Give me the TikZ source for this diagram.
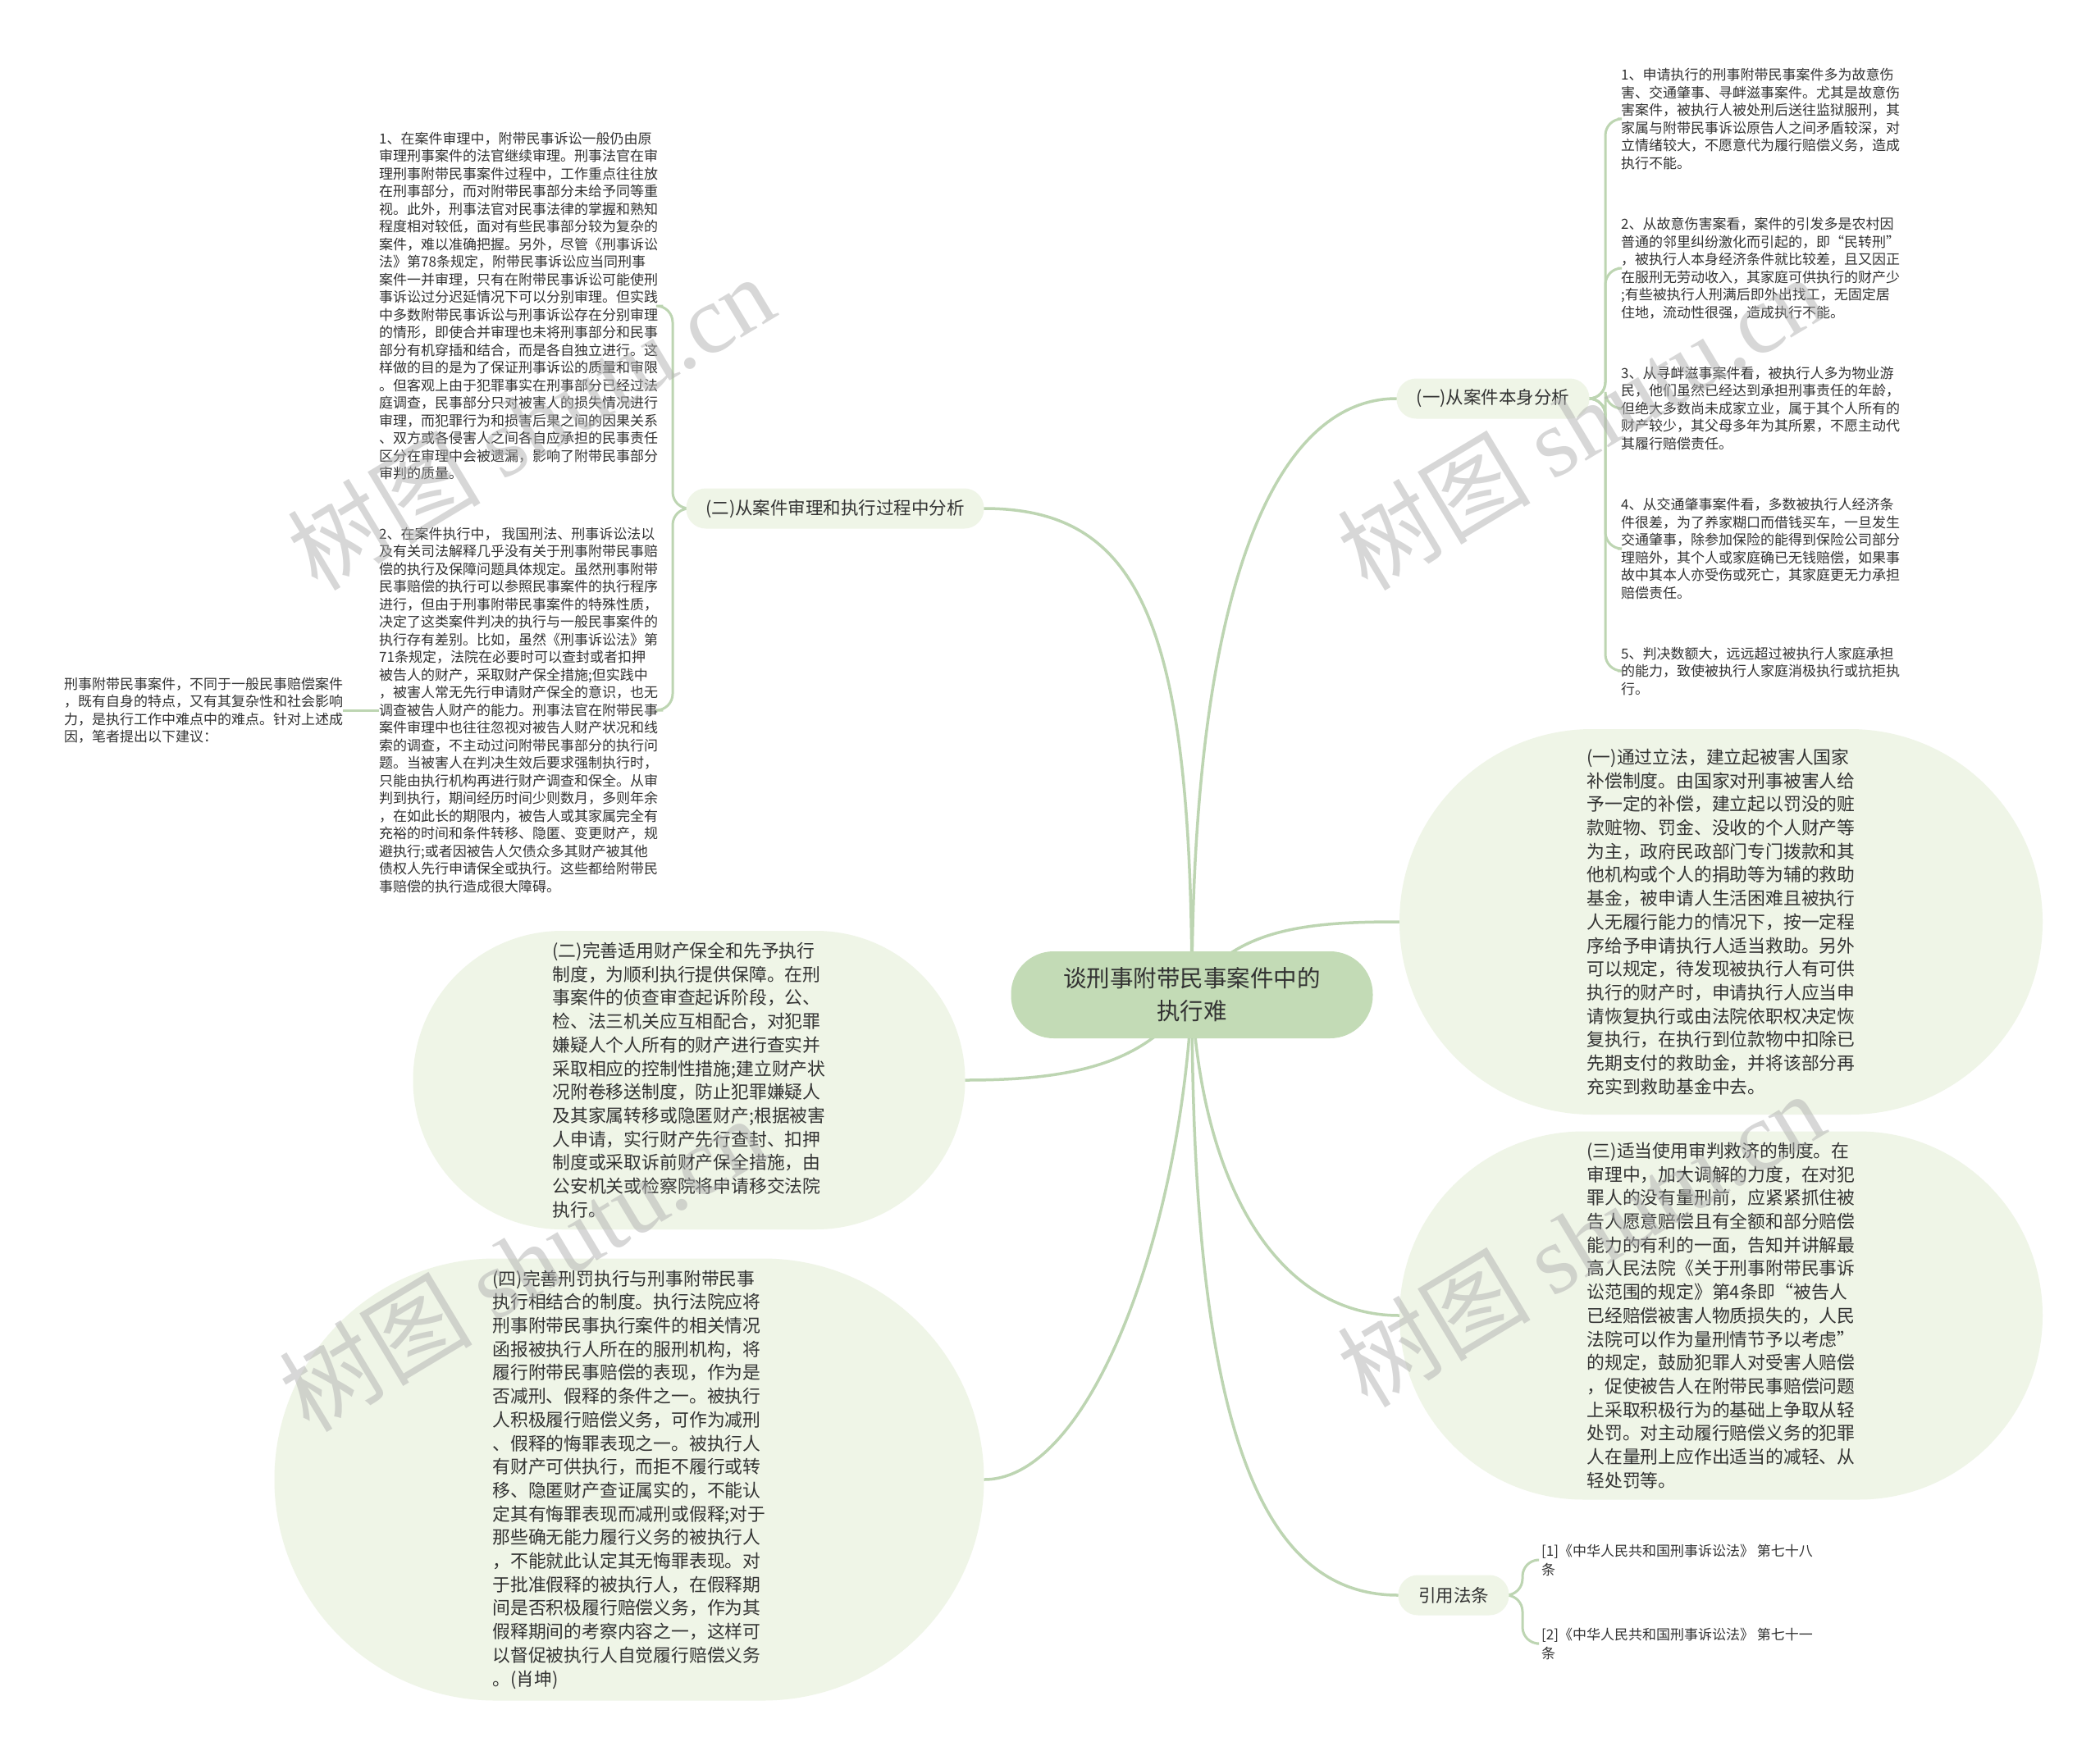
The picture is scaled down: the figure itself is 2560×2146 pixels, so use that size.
\documentclass[tikz,border=0pt]{standalone}
\usepackage{fontspec}
\setmainfont{Noto Sans CJK SC}
\newfontfamily\wmlatin{Liberation Serif}
\definecolor{lc}{HTML}{BDD5B2}
\definecolor{bub}{HTML}{EFF5E7}
\definecolor{rootc}{HTML}{C3DBB6}
\definecolor{txt}{HTML}{333333}
\definecolor{wm}{HTML}{B0B0B0}
\pgfdeclarelayer{bgzero}
\pgfdeclarelayer{lines}
\pgfsetlayers{bgzero,lines,main}
\tikzset{
  conn/.style={draw=lc, line width=3.5pt, line cap=round},
  brk/.style={draw=lc, line width=3pt, rounded corners=20pt},
  rootnode/.style={rectangle, rounded corners=52pt, fill=rootc, minimum width=441pt, minimum height=106pt, align=center, text=txt, font=\fontsize{28.5}{40}\selectfont},
  pill/.style={rectangle, rounded corners=24pt, fill=bub, minimum height=49pt, align=center, text=txt, font=\fontsize{21.5}{26}\selectfont},
  bubble/.style={rectangle, fill=bub, align=left, text=txt, font=\fontsize{21.8}{28.7}\selectfont},
  small/.style={inner sep=0pt, align=left, text=txt, font=\fontsize{17}{21.5}\selectfont},
  wmark/.style={text=wm, opacity=0.5, rotate=31, font=\fontsize{118}{118}\selectfont},
}
\begin{document}
\begin{tikzpicture}[x=1pt, y=-1pt]
\begin{pgfonlayer}{bgzero}
\fill[white] (0,0) rectangle (2560,2146);
\end{pgfonlayer}
\useasboundingbox (0,0) rectangle (2560,2146);

% ---------- nodes ----------
\node[rootnode] (root) at (1453,1213) {谈刑事附带民事案件中的\\执行难};

\node[bubble, minimum width=784pt, minimum height=470pt, rounded corners=234.9pt] (bA) at (2098,1124) {(一)通过立法，建立起被害人国家\\补偿制度。由国家对刑事被害人给\\予一定的补偿，建立起以罚没的赃\\款赃物、罚金、没收的个人财产等\\为主，政府民政部门专门拨款和其\\他机构或个人的捐助等为辅的救助\\基金，被申请人生活困难且被执行\\人无履行能力的情况下，按一定程\\序给予申请执行人适当救助。另外\\可以规定，待发现被执行人有可供\\执行的财产时，申请执行人应当申\\请恢复执行或由法院依职权决定恢\\复执行，在执行到位款物中扣除已\\先期支付的救助金，并将该部分再\\充实到救助基金中去。};

\node[bubble, minimum width=784pt, minimum height=449pt, rounded corners=224.4pt] (bC) at (2098,1604) {(三)适当使用审判救济的制度。在\\审理中，加大调解的力度，在对犯\\罪人的没有量刑前，应紧紧抓住被\\告人愿意赔偿且有全额和部分赔偿\\能力的有利的一面，告知并讲解最\\高人民法院《关于刑事附带民事诉\\讼范围的规定》第4条即“被告人\\已经赔偿被害人物质损失的，人民\\法院可以作为量刑情节予以考虑”\\的规定，鼓励犯罪人对受害人赔偿\\，促使被告人在附带民事赔偿问题\\上采取积极行为的基础上争取从轻\\处罚。对主动履行赔偿义务的犯罪\\人在量刑上应作出适当的减轻、从\\轻处罚等。};

\node[bubble, minimum width=673pt, minimum height=364pt, rounded corners=181.9pt] (bB) at (840,1317) {(二)完善适用财产保全和先予执行\\制度，为顺利执行提供保障。在刑\\事案件的侦查审查起诉阶段，公、\\检、法三机关应互相配合，对犯罪\\嫌疑人个人所有的财产进行查实并\\采取相应的控制性措施;建立财产状\\况附卷移送制度，防止犯罪嫌疑人\\及其家属转移或隐匿财产;根据被害\\人申请，实行财产先行查封、扣押\\制度或采取诉前财产保全措施，由\\公安机关或检察院将申请移交法院\\执行。};

\node[bubble, minimum width=865pt, minimum height=539pt, rounded corners=269.4pt] (bD) at (767,1804) {(四)完善刑罚执行与刑事附带民事\\执行相结合的制度。执行法院应将\\刑事附带民事执行案件的相关情况\\函报被执行人所在的服刑机构，将\\履行附带民事赔偿的表现，作为是\\否减刑、假释的条件之一。被执行\\人积极履行赔偿义务，可作为减刑\\、假释的悔罪表现之一。被执行人\\有财产可供执行，而拒不履行或转\\移、隐匿财产查证属实的，不能认\\定其有悔罪表现而减刑或假释;对于\\那些确无能力履行义务的被执行人\\，不能就此认定其无悔罪表现。对\\于批准假释的被执行人，在假释期\\间是否积极履行赔偿义务，作为其\\假释期间的考察内容之一，这样可\\以督促被执行人自觉履行赔偿义务\\。(肖坤)};

\node[pill, minimum width=363pt] (b2) at (1018,620) {(二)从案件审理和执行过程中分析};
\node[pill, minimum width=235pt] (b1) at (1820,486) {(一)从案件本身分析};
\node[pill, minimum width=135pt] (rf) at (1772,1945) {引用法条};

% left text blocks
\node[small, anchor=west] (t1) at (462,373) {1、在案件审理中，附带民事诉讼一般仍由原\\审理刑事案件的法官继续审理。刑事法官在审\\理刑事附带民事案件过程中，工作重点往往放\\在刑事部分，而对附带民事部分未给予同等重\\视。此外，刑事法官对民事法律的掌握和熟知\\程度相对较低，面对有些民事部分较为复杂的\\案件，难以准确把握。另外，尽管《刑事诉讼\\法》第78条规定，附带民事诉讼应当同刑事\\案件一并审理，只有在附带民事诉讼可能使刑\\事诉讼过分迟延情况下可以分别审理。但实践\\中多数附带民事诉讼与刑事诉讼存在分别审理\\的情形，即使合并审理也未将刑事部分和民事\\部分有机穿插和结合，而是各自独立进行。这\\样做的目的是为了保证刑事诉讼的质量和审限\\。但客观上由于犯罪事实在刑事部分已经过法\\庭调查，民事部分只对被害人的损失情况进行\\审理，而犯罪行为和损害后果之间的因果关系\\、双方或各侵害人之间各自应承担的民事责任\\区分在审理中会被遗漏，影响了附带民事部分\\审判的质量。};

\node[small, anchor=west] (t2) at (462,866) {2、在案件执行中， 我国刑法、刑事诉讼法以\\及有关司法解释几乎没有关于刑事附带民事赔\\偿的执行及保障问题具体规定。虽然刑事附带\\民事赔偿的执行可以参照民事案件的执行程序\\进行，但由于刑事附带民事案件的特殊性质，\\决定了这类案件判决的执行与一般民事案件的\\执行存有差别。比如，虽然《刑事诉讼法》第\\71条规定，法院在必要时可以查封或者扣押\\被告人的财产，采取财产保全措施;但实践中\\，被害人常无先行申请财产保全的意识，也无\\调查被告人财产的能力。刑事法官在附带民事\\案件审理中也往往忽视对被告人财产状况和线\\索的调查，不主动过问附带民事部分的执行问\\题。当被害人在判决生效后要求强制执行时，\\只能由执行机构再进行财产调查和保全。从审\\判到执行，期间经历时间少则数月，多则年余\\，在如此长的期限内，被告人或其家属完全有\\充裕的时间和条件转移、隐匿、变更财产，规\\避执行;或者因被告人欠债众多其财产被其他\\债权人先行申请保全或执行。这些都给附带民\\事赔偿的执行造成很大障碍。};

\node[small, anchor=west] (ft) at (78,866) {刑事附带民事案件，不同于一般民事赔偿案件\\，既有自身的特点，又有其复杂性和社会影响\\力，是执行工作中难点中的难点。针对上述成\\因，笔者提出以下建议：};

% right text blocks
\node[small, anchor=west] (r1) at (1976,145) {1、申请执行的刑事附带民事案件多为故意伤\\害、交通肇事、寻衅滋事案件。尤其是故意伤\\害案件，被执行人被处刑后送往监狱服刑，其\\家属与附带民事诉讼原告人之间矛盾较深，对\\立情绪较大，不愿意代为履行赔偿义务，造成\\执行不能。};
\node[small, anchor=west] (r2) at (1976,327) {2、从故意伤害案看，案件的引发多是农村因\\普通的邻里纠纷激化而引起的，即“民转刑”\\，被执行人本身经济条件就比较差，且又因正\\在服刑无劳动收入，其家庭可供执行的财产少\\;有些被执行人刑满后即外出找工，无固定居\\住地，流动性很强，造成执行不能。};
\node[small, anchor=west] (r3) at (1976,498) {3、从寻衅滋事案件看，被执行人多为物业游\\民，他们虽然已经达到承担刑事责任的年龄，\\但绝大多数尚未成家立业，属于其个人所有的\\财产较少，其父母多年为其所累，不愿主动代\\其履行赔偿责任。};
\node[small, anchor=west] (r4) at (1976,669) {4、从交通肇事案件看，多数被执行人经济条\\件很差，为了养家糊口而借钱买车，一旦发生\\交通肇事，除参加保险的能得到保险公司部分\\理赔外，其个人或家庭确已无钱赔偿，如果事\\故中其本人亦受伤或死亡，其家庭更无力承担\\赔偿责任。};
\node[small, anchor=west] (r5) at (1976,818) {5、判决数额大，远远超过被执行人家庭承担\\的能力，致使被执行人家庭消极执行或抗拒执\\行。};

% references
\node[small, anchor=west, font=\fontsize{17}{23}\selectfont] (f1) at (1879,1902) {[1]《中华人民共和国刑事诉讼法》 第七十八\\条};
\node[small, anchor=west, font=\fontsize{17}{23}\selectfont] (f2) at (1879,2004) {[2]《中华人民共和国刑事诉讼法》 第七十一\\条};

% ---------- connectors ----------
\begin{pgfonlayer}{lines}
\draw[conn] (root.center) .. controls (1453,760) and (1390,620) .. (b2.east);
\draw[conn] (root.center) .. controls (1453,700) and (1560,486) .. (b1.west);
\draw[conn] (root.center) .. controls (1500,1130) and (1600,1124) .. (bA.west);
\draw[conn] (root.center) .. controls (1465,1450) and (1560,1604) .. (bC.west);
\draw[conn] (root.center) .. controls (1453,1750) and (1540,1945) .. (rf.west);
\draw[conn] (root.center) .. controls (1400,1300) and (1300,1317) .. (bB.east);
\draw[conn] (root.center) .. controls (1440,1500) and (1330,1804) .. (bD.east);
% left bracket
\draw[brk] (b2.west) -- (820,620) |- ([xshift=6pt]t1.east);
\draw[brk] (b2.west) -- (820,620) |- ([xshift=6pt]t2.east);
\draw[brk] (t2.west) -- (ft.east);
% right bracket
\draw[brk] (b1.east) -- (1957,486) |- ([xshift=-4pt]r1.west);
\draw[brk] (b1.east) -- (1957,486) |- ([xshift=-4pt]r2.west);
\draw[brk] (b1.east) -- (1957,486) |- ([xshift=-4pt]r3.west);
\draw[brk] (b1.east) -- (1957,486) |- ([xshift=-4pt]r4.west);
\draw[brk] (b1.east) -- (1957,486) |- ([xshift=-4pt]r5.west);
% reference bracket
\draw[brk] (rf.east) -- (1856,1945) |- ([xshift=-6pt]f1.west);
\draw[brk] (rf.east) -- (1856,1945) |- ([xshift=-6pt]f2.west);
\end{pgfonlayer}

% ---------- watermarks ----------
\node[wmark] (w1) at (647,514) {树图 {\wmlatin shutu.cn}};
\node[wmark] (w2) at (1927,514) {树图 {\wmlatin shutu.cn}};
\node[wmark] (w3) at (1927,1510) {树图 {\wmlatin shutu.cn}};
\node[wmark] (w4) at (637,1540) {树图 {\wmlatin shutu.cn}};
\end{tikzpicture}
\end{document}
